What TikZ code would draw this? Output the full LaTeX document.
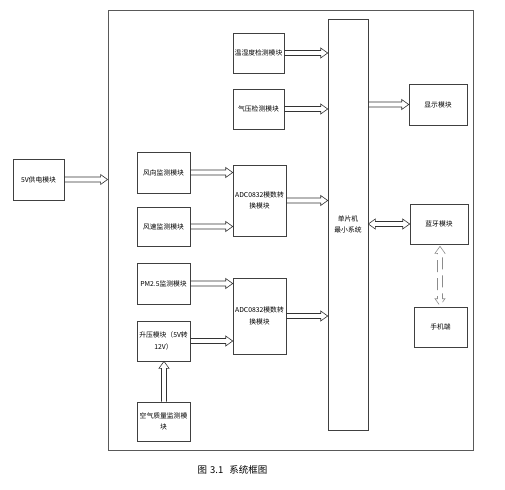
\documentclass[tikz,border=0pt]{standalone}
\usepackage{fontspec}
\newfontfamily\cjk{Noto Sans CJK SC}
\usetikzlibrary{calc}
\newcommand\harr[3][]{%
 \draw[arrline,#1] ($(#2)!2.5pt!90:(#3)$) -- ($(#3)!7pt!(#2)!2.5pt!90:(#3)$) -- ($(#3)!7pt!(#2)!5pt!90:(#3)$) -- (#3)
 -- ($(#3)!7pt!(#2)!5pt!-90:(#3)$) -- ($(#3)!7pt!(#2)!2.5pt!-90:(#3)$) -- ($(#2)!2.5pt!-90:(#3)$);}
\newcommand\barr[3][]{%
 \draw[arrline,#1] (#2) -- ($(#2)!7pt!(#3)!5pt!-90:(#3)$) -- ($(#2)!7pt!(#3)!2.5pt!-90:(#3)$)
 -- ($(#3)!7pt!(#2)!2.5pt!-90:(#3)$) -- ($(#3)!7pt!(#2)!5pt!-90:(#3)$) -- (#3)
 -- ($(#3)!7pt!(#2)!5pt!90:(#3)$) -- ($(#3)!7pt!(#2)!2.5pt!90:(#3)$)
 -- ($(#2)!7pt!(#3)!2.5pt!90:(#3)$) -- ($(#2)!7pt!(#3)!5pt!90:(#3)$) -- cycle;}
\begin{document}
\begin{tikzpicture}[x=1pt,y=-1pt,
  box/.style={draw=black!75, line width=0.6pt, minimum width=53pt, minimum height=40pt,
    inner sep=1pt, align=center, font=\cjk\fontsize{6.8}{11.5}\selectfont},
  arrline/.style={draw=black!80, line width=0.6pt, line join=miter},
  frame/.style={draw=black!65, line width=0.9pt, minimum width=365pt, minimum height=440pt, inner sep=0pt}]
\useasboundingbox (0,0) rectangle (505,489);
\node[frame] (fr) at (290.5,230) {};
\node[box, minimum width=51pt, minimum height=41pt] (p5v) at (38.5,179.5) {5V供电模块};
\node[box, minimum height=41pt] (fx) at (163.5,172.5) {风向监测模块};
\node[box, minimum height=39pt] (fs) at (163.5,226.5) {风速监测模块};
\node[box, minimum height=71pt] (adc1) at (259.5,200.5) {ADC0832模数转\\换模块};
\node[box, minimum height=41pt] (pm) at (163.5,283.5) {PM2.5监测模块};
\node[box] (sy) at (163.5,341) {升压模块（5V转\\12V）};
\node[box, minimum height=76pt] (adc2) at (259.5,316) {ADC0832模数转\\换模块};
\node[box, minimum height=39pt] (kq) at (163.5,421.5) {空气质量监测模\\块};
\node[box, minimum width=51pt] (wsd) at (258.5,53) {温湿度检测模块};
\node[box, minimum width=51pt] (qy) at (258.5,109) {气压检测模块};
\node[box, minimum width=40pt, minimum height=411pt] (mcu) at (348,224.5) {单片机\\最小系统};
\node[box, minimum width=58pt, minimum height=41pt] (xs) at (438,104.5) {显示模块};
\node[box, minimum width=58pt] (ly) at (439,224) {蓝牙模块};
\node[box] (sj) at (440.5,327) {手机端};
\node[font=\cjk\fontsize{9.5}{11}\selectfont] (cap) at (232.5,470) {图\hspace{3pt}3.1\hspace{6pt}系统框图};
% endpoints
\coordinate (a0) at (fr.west |- p5v.east);
\coordinate (a1) at (adc1.west |- fx.east);
\coordinate (a2) at (adc1.west |- fs.east);
\coordinate (a3) at (adc2.west |- pm.east);
\coordinate (a4) at (adc2.west |- sy.east);
\coordinate (a5) at (mcu.west |- adc1.east);
\coordinate (a6) at (mcu.west |- adc2.east);
\coordinate (a7) at (mcu.west |- wsd.east);
\coordinate (a8) at (mcu.west |- qy.east);
\coordinate (b1) at (mcu.east |- xs.west);
\coordinate (b2) at (mcu.east |- ly.west);
\coordinate (k1) at (kq.north -| 164,0);
\coordinate (k2) at (sy.south -| 164,0);
\coordinate (d1) at ($(ly.south)+(1,2)$);
\coordinate (d2) at ($(sj.north)+(-0.5,-1)$);
\harr{p5v.east}{a0}
\harr{fx.east}{a1}
\harr{fs.east}{a2}
\harr{pm.east}{a3}
\harr{sy.east}{a4}
\harr{adc1.east}{a5}
\harr{adc2.east}{a6}
\harr{wsd.east}{a7}
\harr{qy.east}{a8}
\harr{b1}{xs.west}
\harr{k1}{k2}
\barr{b2}{ly.west}
\barr[draw=black!45, dash pattern=on 12pt off 6pt]{d1}{d2}
\end{tikzpicture}
\end{document}
